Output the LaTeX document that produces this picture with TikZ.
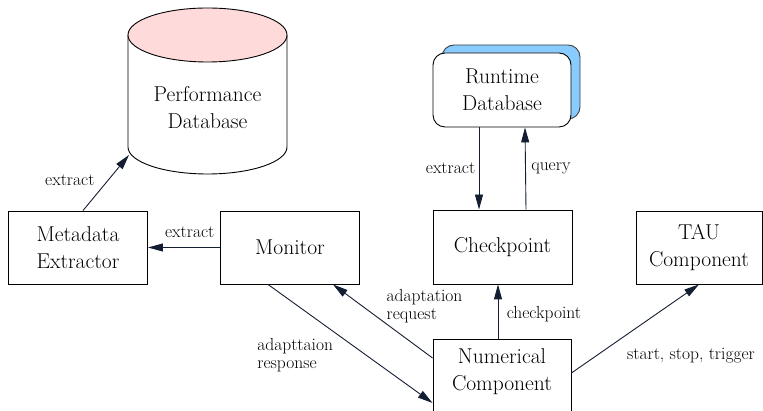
\documentclass[tikz,border=0pt]{standalone}
\usepackage{fontspec}
\usetikzlibrary{arrows.meta, positioning, shadows}

\definecolor{dbpink}{RGB}{255,218,218}
\definecolor{dbblue}{RGB}{136,204,255}
\definecolor{linkcol}{RGB}{20,30,50}

\tikzset{
  comp/.style={draw, fill=white, minimum width=139pt, minimum height=73pt, align=center, font=\fontsize{21.5}{27}\selectfont},
  comptext/.style={align=center, font=\fontsize{21.5}{27}\selectfont},
  lbl/.style={align=left, font=\fontsize{17.5}{18}\selectfont},
  arr/.style={draw=linkcol, -{Triangle[length=15pt,width=8pt]}},
}

\begin{document}
\begin{tikzpicture}[x=1pt, y=1pt, line width=0.9pt]
    \useasboundingbox (0,0) rectangle (763,411);

    % Performance database (cylinder)
    \filldraw[fill=white] (128,376) -- (128,264) arc[start angle=180, end angle=360, x radius=79.5, y radius=27] -- (287,376);
    \filldraw[fill=dbpink] (207.5,376) ellipse[x radius=79.5, y radius=27];
    \node[comptext] (perfdb) at (207.5,303.5) {Performance\\Database};
    \coordinate (perfdbin) at (129,256);

    % Components
    \node[comp] (meta) at (78,163.5) {Metadata\\Extractor};
    \node[comp] (monitor) at (290,163.5) {Monitor};
    \node[comp, minimum height=74pt] (chk) at (502.5,164) {Checkpoint};
    \node[comp, minimum width=126pt] (tau) at (699,163.5) {TAU\\Component};
    \node[comp, minimum width=138pt, minimum height=76pt,
          label={[comptext, yshift=5.5pt]center:Numerical\\Component}] (num) at (502,34) {};

    % Runtime database with shadow
    \node[comp, rounded corners=12pt, minimum width=138pt, minimum height=74pt,
          copy shadow={shadow xshift=9pt, shadow yshift=8pt, fill=dbblue, draw=black!75}] (rtdb) at (502,321) {Runtime\\Database};

    % Links
    \draw[arr] ([xshift=5pt]meta.north) -- (perfdbin) node[pos=0.55, left=10pt, lbl] {extract};
    \draw[arr] (monitor) -- (meta) node[pos=0.42, above=6pt, lbl] {extract};
    \draw[arr] ([xshift=-23pt]rtdb.south) -- ([xshift=-23.5pt]chk.north) node[midway, left, lbl] {extract};
    \draw[arr] ([xshift=23.5pt]chk.north) -- ([xshift=23pt]rtdb.south) node[midway, right=2pt, lbl] {query};
    \draw[arr] ([xshift=-22pt]monitor.south) -- ([yshift=-26pt]num.west)
        node[pos=0.4, anchor=north east, xshift=3pt, yshift=-3pt, lbl] {adapttaion\\response};
    \draw[arr] ([yshift=19pt]num.west) -- ([xshift=43pt]monitor.south)
        node[pos=0.7, right=20pt, lbl] {adaptation\\request};
    \draw[arr] ([xshift=-4pt]num.north) -- ([xshift=-4.5pt]chk.south) node[pos=0.45, right=5pt, lbl] {checkpoint};
    \draw[arr] ([yshift=4pt]num.east) -- (tau.south)
        node[pos=0.43, anchor=north west, xshift=-3pt, yshift=-10pt, lbl] {start, stop, trigger};
\end{tikzpicture}
\end{document}
